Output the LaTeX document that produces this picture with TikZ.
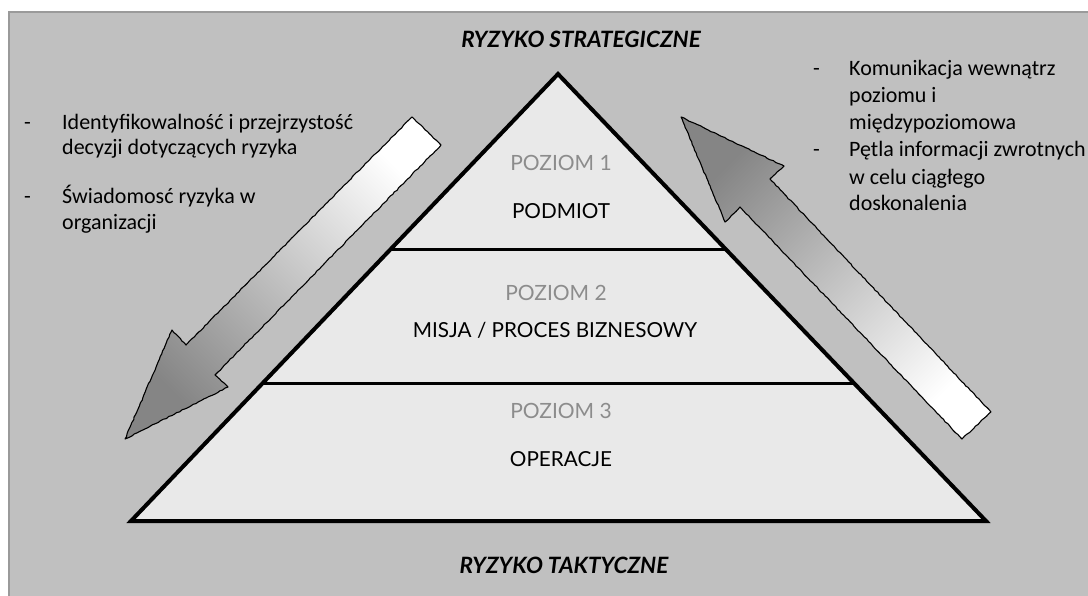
\documentclass[tikz,border=0pt]{standalone}
\usepackage{fontspec}
\setmainfont{Lato}
\newfontfamily\bulletfont{Carlito}
\usetikzlibrary{calc,decorations.pathmorphing}

\definecolor{panel}{HTML}{C0C0C0}
\definecolor{paneledge}{HTML}{9A9A9A}
\definecolor{layerfill}{HTML}{E9E9E9}
\definecolor{levelgray}{HTML}{8C8C8C}
\definecolor{arrowdark}{HTML}{858585}

\tikzset{
  title/.style={font=\fontsize{22.5}{26}\selectfont\bfseries\itshape, anchor=base, inner sep=0pt},
  levelname/.style={font=\fontsize{21}{25}\selectfont, text=levelgray, anchor=base, inner sep=0pt},
  layername/.style={font=\fontsize{20.7}{25}\selectfont, anchor=base, inner sep=0pt},
  bulletline/.style={font=\bulletfont\fontsize{22}{26}\selectfont, anchor=base west, inner sep=0pt},
  pyramid/.style={draw=black, fill=layerfill, line width=4pt, line join=miter},
  divider/.style={draw=black, line width=3pt},
  flow/.style={draw=black, line width=1.1pt, line join=round,
    decorate, decoration={random steps, segment length=3pt, amplitude=0.45pt}},
}

\begin{document}
\begin{tikzpicture}[x=1pt,y=-1pt]
  \pgfmathsetseed{7}
  % page and grey panel
  \useasboundingbox (0,0) rectangle (1088,595);
  \fill[white] (0,0) rectangle (1088,595);
  \filldraw[fill=panel, draw=paneledge, line width=1.5pt] (9,12) rectangle (1090,597);

  % pyramid corners
  \coordinate (apex) at (558,74);
  \coordinate (bl) at (131,521);
  \coordinate (br) at (986,521);
  \path[pyramid] (apex) -- (bl) -- (br) -- cycle;

  % level boundaries
  \coordinate (d1l) at ($(apex)!0.3937!(bl)$);
  \coordinate (d1r) at ($(apex)!0.3937!(br)$);
  \coordinate (d2l) at ($(apex)!0.6913!(bl)$);
  \coordinate (d2r) at ($(apex)!0.6913!(br)$);
  \draw[divider] (d1l) -- (d1r);
  \draw[divider] (d2l) -- (d2r);

  % downward arrow (left)
  \coordinate (la1) at (412,117);
  \coordinate (la2) at (441,145);
  \coordinate (la3) at (215,375);
  \coordinate (la4) at (228,387);
  \coordinate (la5) at (125,439);
  \coordinate (la6) at (172,330);
  \coordinate (la7) at (186,345);
  \shadedraw[flow, top color=white, bottom color=arrowdark, shading angle=-45]
    (la1) -- (la2) -- (la3) -- (la4) -- (la5) -- (la6) -- (la7) -- cycle;

  % upward arrow (right)
  \coordinate (ra1) at (681,117);
  \coordinate (ra2) at (784,166);
  \coordinate (ra3) at (770,179);
  \coordinate (ra4) at (991,412);
  \coordinate (ra5) at (962,439);
  \coordinate (ra6) at (740,207);
  \coordinate (ra7) at (725,222);
  \shadedraw[flow, top color=arrowdark, bottom color=white, shading angle=45]
    (ra1) -- (ra2) -- (ra3) -- (ra4) -- (ra5) -- (ra6) -- (ra7) -- cycle;

  % titles
  \node[title] (top) at (581,47) {RYZYKO STRATEGICZNE};
  \node[title] (bottom) at (564,573) {RYZYKO TAKTYCZNE};

  % levels
  \node[levelname] (lv1) at (561,170) {POZIOM 1};
  \node[layername] (ly1) at (561,218) {PODMIOT};
  \node[levelname] (lv2) at (556,300) {POZIOM 2};
  \node[layername] (ly2) at (555,337) {MISJA / PROCES BIZNESOWY};
  \node[levelname] (lv3) at (561,418) {POZIOM 3};
  \node[layername] (ly3) at (561,466) {OPERACJE};

  % left notes
  \node[bulletline] (lda) at (24,129) {-};
  \node[bulletline] (l1a) at (62,129) {Identyfikowalność i przejrzystość};
  \node[bulletline] (l1b) at (62,154) {decyzji dotyczących ryzyka};
  \node[bulletline] (ldb) at (24,203) {-};
  \node[bulletline] (l2a) at (62,203) {Świadomosć ryzyka w};
  \node[bulletline] (l2b) at (62,229) {organizacji};

  % right notes
  \node[bulletline] (rda) at (813,75) {-};
  \node[bulletline] (r1a) at (849,75) {Komunikacja wewnątrz};
  \node[bulletline] (r1b) at (849,102) {poziomu i};
  \node[bulletline] (r1c) at (849,129) {międzypoziomowa};
  \node[bulletline] (rdb) at (813,156) {-};
  \node[bulletline] (r2a) at (849,156) {Pętla informacji zwrotnych};
  \node[bulletline] (r2b) at (849,184) {w celu ciągłego};
  \node[bulletline] (r2c) at (849,210) {doskonalenia};
\end{tikzpicture}
\end{document}
